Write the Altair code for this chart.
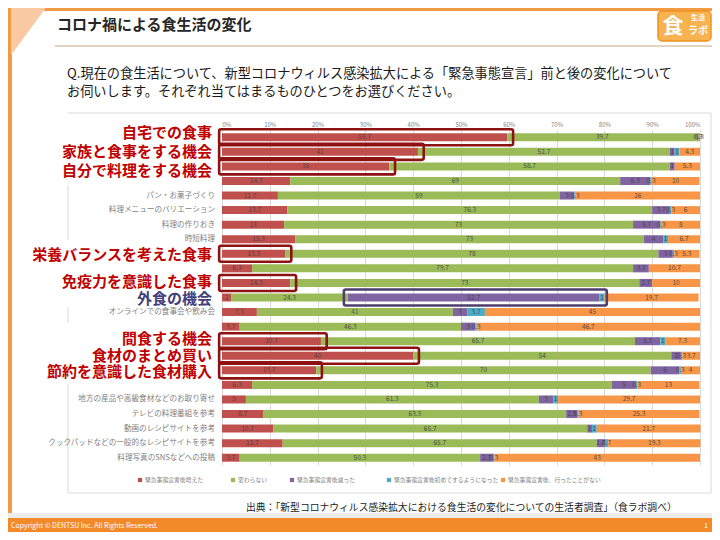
import altair as alt
import pandas as pd

# ---------------- data ----------------
row_labels = ["自宅での食事", "家族と食事をする機会", "自分で料理をする機会", "",
              "パン・お菓子づくり", "料理メニューのバリエーション", "料理の作りおき", "時短料理",
              "栄養バランスを考えた食事", "", "免疫力を意識した食事", "外食の機会",
              "オンラインでの食事会や飲み会", "", "間食する機会", "食材のまとめ買い",
              "節約を意識した食材購入", "", "地方の産品や高級食材などのお取り寄せ",
              "テレビの料理番組を参考", "動画のレシピサイトを参考",
              "クックパッドなどの一般的なレシピサイトを参考", "料理写真のSNSなどへの投稿"]

series = ["緊急事態宣言後増えた", "変わらない", "緊急事態宣言後減った",
          "緊急事態宣言後初めてするようになった", "緊急事態宣言後、行ったことがない"]

increased = [59.7, 41, 35, 14.3, 11.7, 13.7, 13, 15.3, 13.3, 6.3, 14.3, 2, 7.3, 3.7,
             20.7, 40, 19.7, 6.3, 5, 8.7, 10.7, 12.7, 3.7]
unchanged = [39.7, 52.7, 58.7, 69, 59, 76.3, 73, 73, 78, 79.7, 73, 24.3, 41, 46.3,
             65.7, 54, 70, 75.3, 61.3, 63.3, 65.7, 65.7, 50.3]
decreased = [0.3, 1.0, 1.0, 6.3, 3.0, 3.7, 5.7, 4.0, 3.0, 3.3, 2.7, 52.7, 3.0, 3.0,
             5.3, 2.0, 6.0, 5.0, 3.0, 2.3, 1.0, 1.7, 2.7]
started = [0, 1.0, 0, 0.3, 0.3, 0.3, 0.3, 1.0, 0.3, 0, 0, 1.0, 3.7, 0.3,
           1.0, 0.3, 0.3, 0.3, 1.0, 0.3, 1.0, 0.7, 0.3]
never = [0.3, 4.3, 5.3, 10, 26, 6, 8, 6.7, 5.3, 10.7, 10, 19.7, 45, 46.7,
         7.3, 3.7, 4, 13, 29.7, 25.3, 21.7, 19.3, 43]

x_ticks = [0, 10, 20, 30, 40, 50, 60, 70, 80, 90, 100]

# emphasised rows
red_box_rows = [0, 1, 2, 8, 10, 14, 15, 16]
purple_box_rows = [11]
small_label_rows = [4, 5, 6, 7, 12, 18, 19, 20, 21, 22]

colors = ["#c0504d", "#9bbb59", "#8064a2", "#4bacc6", "#f79646"]
FONT = "Noto Sans CJK JP"

# legend slot layout (pixels from plot's left edge)
legend_slots = [-82, 11, 70, 167, 281]

# ---------------- tables ----------------
all_vals = [increased, unchanged, decreased, started, never]
recs = []
for i in range(len(row_labels)):
    cum = 0.0
    for k, s in enumerate(series):
        v = all_vals[k][i]
        recs.append(dict(row=i, series=s, order=k, value=v, start=cum, end=cum + v,
                         mid=cum + v / 2, label=f"{v:g}"))
        cum += v
df = pd.DataFrame(recs)

red_boxes = pd.DataFrame({"row": red_box_rows,
                          "x0": [-0.6] * len(red_box_rows),
                          "x1": [increased[r] + 1.2 for r in red_box_rows]})
purple_boxes = pd.DataFrame({"row": purple_box_rows,
                             "x0": [increased[r] + unchanged[r] - 0.8 for r in purple_box_rows],
                             "x1": [increased[r] + unchanged[r] + decreased[r] + started[r] + 0.5
                                    for r in purple_box_rows]})
labels_df = pd.DataFrame({"row": list(range(len(row_labels))), "label": row_labels})
legend_df = pd.DataFrame({"series": series, "px": legend_slots,
                          "tx": [p + 5 for p in legend_slots]})

W, H = 478, 335
ysc = alt.Scale(domain=list(range(len(row_labels))), paddingInner=0, paddingOuter=0)
xsc = alt.Scale(domain=[0, 100], nice=False, zero=False)
csc = alt.Scale(domain=series, range=colors)
Y = alt.Y("row:O", scale=ysc, axis=None)

bars = alt.Chart(df).mark_bar(height=8).encode(
    x=alt.X("start:Q", scale=xsc, title=None,
            axis=alt.Axis(orient="top", values=x_ticks, labelExpr="datum.value + '%'",
                          grid=True, gridColor="#d9d9d9", domain=False, ticks=False,
                          labelFontSize=6, labelColor="#7f7f7f", labelPadding=3)),
    x2="end:Q",
    y=Y,
    color=alt.Color("series:N", scale=csc, legend=None),
    order=alt.Order("order:Q"),
)

values = alt.Chart(df[df["value"] > 0]).mark_text(fontSize=6.5, color="#404040", opacity=0.85).encode(
    x="mid:Q", y=Y, text="label:N")

rbox = alt.Chart(red_boxes).mark_bar(height=16, fill="transparent", stroke="#8e1212",
                                     strokeWidth=2.6, cornerRadius=2).encode(
    x="x0:Q", x2="x1:Q", y=Y)
pbox = alt.Chart(purple_boxes).mark_bar(height=16, fill="transparent", stroke="#4e3f6e",
                                        strokeWidth=2.6, cornerRadius=2).encode(
    x="x0:Q", x2="x1:Q", y=Y)

small_lbl = alt.Chart(labels_df[labels_df["row"].isin(small_label_rows)]).mark_text(
    align="right", baseline="middle", fontSize=7.6, color="#7f7f7f").encode(
    x=alt.value(-7), y=Y, text="label:N")

big_layers = []
for rows_, dy in [([0], -4), ([10], -1), ([14], -2), ([1, 15], 0), ([8], 1), ([16], 2), ([2], 5)]:
    big_layers.append(
        alt.Chart(labels_df[labels_df["row"].isin(rows_)]).mark_text(
            align="right", baseline="middle", fontSize=15, fontWeight="bold",
            color="#c00000", dy=dy).encode(x=alt.value(-10), y=Y, text="label:N"))
big_layers.append(
    alt.Chart(labels_df[labels_df["row"].isin(purple_box_rows)]).mark_text(
        align="right", baseline="middle", fontSize=15, fontWeight="bold",
        color="#443f7a", dy=1).encode(x=alt.value(-10), y=Y, text="label:N"))

# legend (same colour scale as the bars)
leg_sym = alt.Chart(legend_df).mark_square(size=18, opacity=1, filled=True).encode(
    x=alt.X("px:Q", scale=None), y=alt.value(350),
    color=alt.Color("series:N", scale=csc, legend=None))
leg_txt = alt.Chart(legend_df).mark_text(align="left", baseline="middle", fontSize=5.8,
                                         color="#7f7f7f").encode(
    x=alt.X("tx:Q", scale=None), y=alt.value(350), text="series:N")

# ---------------- slide decoration (pixel positions relative to plot origin) ----------------
one = pd.DataFrame({"d": [0]})


def rect(x0, x1, y0, y1, **kw):
    return alt.Chart(one).mark_rect(**kw).encode(
        x=alt.value(x0), x2=alt.value(x1), y=alt.value(y0), y2=alt.value(y1))


def text(x, y, t, **kw):
    return alt.Chart(one).mark_text(text=t, **kw).encode(x=alt.value(x), y=alt.value(y))


def rule(x0, x1, y0, y1, **kw):
    return alt.Chart(one).mark_rule(**kw).encode(
        x=alt.value(x0), x2=alt.value(x1), y=alt.value(y0), y2=alt.value(y1))


deco = [
    rect(-214, 490, -122, -119, color="#f39a45"),
    rect(-214, -210, -122, 391, color="#f39a45"),
    alt.Chart(one).mark_point(shape="M -0.74 -1 L 0.74 -1 L -0.74 1 Z", size=2500,
                              filled=True, color="#f8c9a2", opacity=1).encode(
        x=alt.value(-192.5), y=alt.value(-100)),
    text(-165, -105, "コロナ禍による食生活の変化", fontSize=15, fontWeight="bold",
         color="#262626", align="left", baseline="middle"),
    rule(-167, 490, -84, -84, color="#c9a888", strokeWidth=1),
    rect(436, 489, -119, -89, color="#f7b34f", stroke="#ee9320", strokeWidth=1.5, cornerRadius=4),
    text(451, -103, "食", fontSize=21, fontWeight="bold", color="#ffffff",
         align="center", baseline="middle"),
    text(476, -112, "生活", fontSize=7, fontWeight="bold", color="#ffffff",
         align="center", baseline="middle"),
    text(476, -99, "ラボ", fontSize=10, fontWeight="bold", color="#ffffff",
         align="center", baseline="middle"),
    text(-155, -56, "Q.現在の食生活について、新型コロナウィルス感染拡大による「緊急事態宣言」前と後の変化について",
         fontSize=13.2, color="#1a1a1a", align="left", baseline="middle"),
    text(-155, -38, "お伺いします。それぞれ当てはまるものひとつをお選びください。",
         fontSize=13.2, color="#1a1a1a", align="left", baseline="middle"),
    rule(-154, 489, -17, -17, color="#d9d9d9", strokeWidth=1),
    rule(489, 489, -17, 363, color="#d9d9d9", strokeWidth=1),
    rule(-154, 489, 363, 363, color="#d9d9d9", strokeWidth=1),
    rule(-154, -154, 55, 110, color="#d9d9d9", strokeWidth=1),
    rule(-154, -154, 177, 193, color="#d9d9d9", strokeWidth=1),
    rule(-154, -154, 254, 363, color="#d9d9d9", strokeWidth=1),
    text(24, 378, "出典：「新型コロナウィルス感染拡大における食生活の変化についての生活者調査」（食ラボ調べ）",
         fontSize=9.8, color="#1a1a1a", align="left", baseline="middle"),
    rect(-214, 490, 383, 388, color="#ececec"),
    rect(-214, 490, 388, 402, color="#f28a2a"),
    text(-211, 396, "Copyright © DENTSU Inc. All Rights Reserved.", fontSize=7,
         color="#ffffff", align="left", baseline="middle"),
    text(484, 396, "1", fontSize=7, color="#ffffff", align="center", baseline="middle"),
]

chart = alt.layer(*deco, bars, values, rbox, pbox, small_lbl, *big_layers,
                  leg_sym, leg_txt).properties(
    width=W, height=H,
    autosize=alt.AutoSizeParams(type="none"),
    padding={"left": 214, "top": 122, "right": 12, "bottom": 67},
).configure(font=FONT).configure_view(strokeWidth=0)

chart.save("out.html", embed_options={"renderer": "svg", "actions": False})
